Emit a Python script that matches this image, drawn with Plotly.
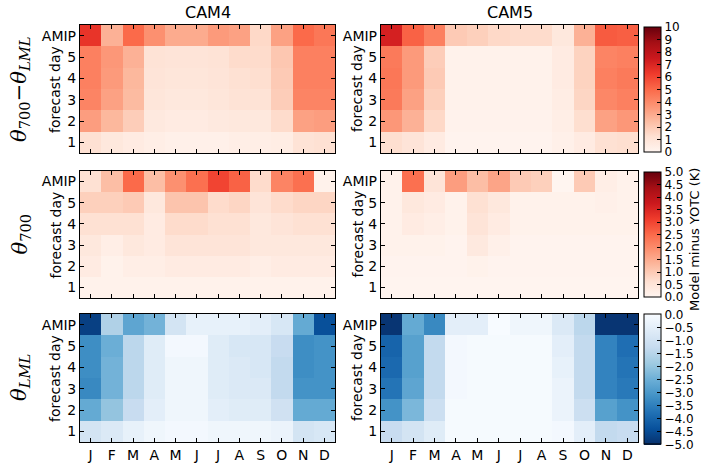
import plotly.graph_objects as go
from plotly.subplots import make_subplots

months = ["J", "F", "M", "A", "M", "J", "J", "A", "S", "O", "N", "D"]
rows = ["1", "2", "3", "4", "5", "AMIP"]
models = ["CAM4", "CAM5"]

# rows: forecast day 1..5, then AMIP (top)
cam4_diff = [
    [1.2, 0.8, 0.6, 0.4, 0.3, 0.3, 0.3, 0.4, 0.4, 0.5, 1.1, 1.2],
    [3.4, 2.6, 1.9, 0.7, 0.6, 0.6, 0.7, 0.8, 0.8, 1.4, 3.3, 3.4],
    [4.2, 3.3, 2.5, 0.9, 0.8, 0.8, 0.9, 1.1, 1.1, 1.9, 4.2, 4.2],
    [4.3, 3.5, 2.6, 1.0, 0.9, 0.9, 1.0, 1.2, 1.3, 2.0, 4.3, 4.3],
    [4.3, 3.6, 2.8, 1.1, 1.0, 1.0, 1.1, 1.4, 1.4, 2.1, 4.3, 4.3],
    [6.5, 2.8, 5.0, 3.8, 3.0, 3.0, 3.5, 3.3, 1.5, 3.3, 5.0, 4.6],
]
cam5_diff = [
    [1.3, 1.0, 0.6, 0.1, 0.1, 0.1, 0.1, 0.1, 0.3, 0.6, 1.2, 1.3],
    [3.6, 2.8, 1.5, 0.15, 0.15, 0.15, 0.15, 0.15, 0.4, 1.3, 3.3, 3.6],
    [4.5, 3.3, 1.8, 0.2, 0.2, 0.2, 0.2, 0.2, 0.5, 1.6, 4.1, 4.3],
    [4.6, 3.5, 2.0, 0.2, 0.2, 0.2, 0.2, 0.2, 0.6, 1.7, 4.3, 4.5],
    [4.5, 3.5, 1.9, 0.2, 0.2, 0.2, 0.2, 0.2, 0.6, 1.7, 4.2, 4.3],
    [7.2, 5.2, 4.3, 2.0, 1.8, 1.5, 1.4, 1.4, 0.8, 2.8, 5.4, 5.3],
]
cam4_t700 = [
    [0.10, 0.10, 0.10, 0.10, 0.10, 0.10, 0.10, 0.10, 0.10, 0.10, 0.10, 0.10],
    [0.30, 0.10, 0.20, 0.20, 0.30, 0.30, 0.30, 0.30, 0.20, 0.30, 0.30, 0.30],
    [0.40, 0.20, 0.40, 0.30, 0.50, 0.50, 0.50, 0.50, 0.40, 0.40, 0.40, 0.40],
    [0.60, 0.60, 0.60, 0.30, 0.70, 0.70, 0.60, 0.60, 0.40, 0.50, 0.60, 0.60],
    [0.90, 0.90, 1.00, 0.40, 1.10, 1.10, 0.70, 0.80, 0.50, 0.70, 0.80, 0.80],
    [0.60, 1.20, 2.50, 1.20, 1.90, 2.40, 3.00, 2.60, 0.70, 2.10, 2.40, 0.10],
]
cam5_t700 = [
    [0.02, 0.02, 0.02, 0.02, 0.02, 0.02, 0.02, 0.02, 0.02, 0.02, 0.02, 0.02],
    [0.05, 0.05, 0.05, 0.05, 0.10, 0.05, 0.05, 0.05, 0.05, 0.05, 0.05, 0.05],
    [0.10, 0.10, 0.10, 0.05, 0.35, 0.15, 0.05, 0.05, 0.05, 0.05, 0.05, 0.05],
    [0.10, 0.30, 0.20, 0.10, 0.50, 0.30, 0.10, 0.10, 0.10, 0.10, 0.10, 0.10],
    [0.10, 0.40, 0.30, 0.10, 0.60, 0.40, 0.10, 0.10, 0.10, 0.10, 0.15, 0.10],
    [0.10, 2.40, 0.50, 1.70, 1.20, 1.60, 1.00, 0.90, 0.00, 1.00, 0.20, 0.10],
]
cam4_tlml = [
    [-0.9, -0.7, -0.4, -0.2, -0.1, -0.1, -0.2, -0.2, -0.2, -0.3, -0.9, -0.8],
    [-2.6, -2.0, -1.2, -0.5, -0.2, -0.2, -0.5, -0.6, -0.6, -1.0, -2.6, -2.6],
    [-3.3, -2.4, -1.4, -0.6, -0.2, -0.2, -0.6, -0.7, -0.7, -1.3, -3.1, -3.1],
    [-3.2, -2.4, -1.4, -0.6, -0.2, -0.2, -0.6, -0.7, -0.8, -1.3, -3.2, -3.1],
    [-3.2, -2.5, -1.4, -0.6, -0.1, -0.1, -0.6, -0.8, -0.8, -1.2, -3.2, -3.1],
    [-4.7, -1.6, -2.7, -2.4, -0.9, -0.4, -0.4, -0.4, -0.5, -0.8, -2.6, -4.4],
]
cam5_tlml = [
    [-1.2, -0.9, -0.6, -0.05, -0.05, -0.05, -0.05, -0.05, -0.1, -0.5, -1.3, -1.2],
    [-3.1, -2.3, -1.1, -0.05, -0.05, -0.05, -0.05, -0.05, -0.3, -1.1, -2.8, -3.1],
    [-3.7, -2.7, -1.3, -0.1, -0.05, -0.05, -0.05, -0.05, -0.3, -1.3, -3.4, -3.6],
    [-3.9, -2.8, -1.3, -0.1, -0.05, -0.05, -0.05, -0.05, -0.4, -1.3, -3.4, -3.7],
    [-4.0, -2.8, -1.3, -0.1, -0.05, -0.05, -0.05, -0.05, -0.5, -1.3, -3.4, -3.8],
    [-4.9, -2.6, -3.3, -0.5, -0.5, 0.0, -0.2, -0.2, -0.7, -1.4, -4.9, -4.9],
]

row_labels = [
    "<i>θ</i><sub>700</sub>−<i>θ</i><sub><i>LML</i></sub>",
    "<i>θ</i><sub>700</sub>",
    "<i>θ</i><sub><i>LML</i></sub>",
]
ytitle = "forecast day"
cbar_label = "Model minus YOTC (K)"

reds = ["rgb(255,245,240)", "rgb(254,224,210)", "rgb(252,187,161)",
        "rgb(252,146,114)", "rgb(251,106,74)", "rgb(239,59,44)",
        "rgb(203,24,29)", "rgb(165,15,21)", "rgb(103,0,13)"]
blues = ["rgb(247,251,255)", "rgb(222,235,247)", "rgb(198,219,239)",
         "rgb(158,202,225)", "rgb(107,174,214)", "rgb(66,146,198)",
         "rgb(33,113,181)", "rgb(8,81,156)", "rgb(8,48,107)"]


def scale(cols):
    n = len(cols) - 1
    return [[i / n, c] for i, c in enumerate(cols)]


W, H = 701, 463
FONT = "DejaVu Sans"

fig = make_subplots(rows=3, cols=2)

data = [[cam4_diff, cam5_diff], [cam4_t700, cam5_t700], [cam4_tlml, cam5_tlml]]
xdom = [(80, 335), (381, 638)]
ydom = [(25, 153), (171, 298), (314, 442)]
ytitle_x = [55, 357]

for r in range(3):
    for c in range(2):
        fig.add_trace(
            go.Heatmap(
                z=data[r][c],
                x=list(range(12)),
                y=list(range(6)),
                coloraxis=["coloraxis", "coloraxis2", "coloraxis3"][r],
                showscale=(c == 1),
            ),
            row=r + 1, col=c + 1,
        )
        idx = r * 2 + c + 1
        xa = "xaxis" if idx == 1 else f"xaxis{idx}"
        ya = "yaxis" if idx == 1 else f"yaxis{idx}"
        x0, x1 = xdom[c]
        y0, y1 = ydom[r]
        common = dict(showline=True, linecolor="black", linewidth=1.3, mirror="ticks",
                      ticks="inside", ticklen=4, tickcolor="black", tickwidth=1,
                      showgrid=False, zeroline=False,
                      tickfont=dict(family=FONT, size=14, color="black"))
        fig.layout[xa].update(domain=[x0 / W, x1 / W], range=[-0.5, 11.5],
                              tickvals=list(range(12)), ticktext=months,
                              showticklabels=(r == 2), **common)
        fig.layout[ya].update(domain=[1 - y1 / H, 1 - y0 / H], range=[-0.5, 5.5],
                              tickvals=list(range(6)), ticktext=rows, **common)

cb_common = dict(thickness=17, thicknessmode="pixels", lenmode="pixels",
                 x=644 / W, xanchor="left", yanchor="middle",
                 outlinecolor="black", outlinewidth=1,
                 ticks="inside", ticklen=4, tickcolor="black",
                 tickfont=dict(family=FONT, size=12, color="black"), xpad=0, ypad=0)

fig.update_layout(
    coloraxis=dict(colorscale=scale(reds), cmin=0, cmax=10,
                   colorbar=dict(len=125, y=1 - 89.5 / H, tickvals=list(range(11)),
                                 **cb_common)),
    coloraxis2=dict(colorscale=scale(reds), cmin=0, cmax=5,
                    colorbar=dict(len=125, y=1 - 234.5 / H,
                                  tickvals=[i * 0.5 for i in range(11)],
                                  tickformat=".1f", **cb_common)),
    coloraxis3=dict(colorscale=scale(blues[::-1]), cmin=-5, cmax=0,
                    colorbar=dict(len=130, y=1 - 379.5 / H,
                                  tickvals=[-5 + i * 0.5 for i in range(11)],
                                  tickformat=".1f", **cb_common)),
)

annotations = []
for c in range(2):
    annotations.append(dict(text=models[c], x=(xdom[c][0] + xdom[c][1]) / 2 / W,
                            y=1 - 12 / H, xref="paper", yref="paper",
                            xanchor="center", yanchor="middle",
                            showarrow=False, font=dict(family=FONT, size=16, color="black")))
for r in range(3):
    ymid = 1 - (ydom[r][0] + ydom[r][1]) / 2 / H
    annotations.append(dict(text=row_labels[r], x=20 / W, y=ymid,
                            xref="paper", yref="paper", textangle=-90, showarrow=False,
                            xanchor="center", yanchor="middle",
                            font=dict(family="DejaVu Serif", size=21, color="black")))
    for c in range(2):
        annotations.append(dict(text=ytitle, x=ytitle_x[c] / W, y=ymid,
                                xref="paper", yref="paper", textangle=-90,
                                showarrow=False, xanchor="center", yanchor="middle",
                                font=dict(family=FONT, size=14, color="black")))
annotations.append(dict(text=cbar_label, x=694 / W, y=1 - 240 / H, xref="paper",
                        yref="paper", textangle=-90, showarrow=False,
                        xanchor="center", yanchor="middle",
                        font=dict(family=FONT, size=13, color="black")))

fig.update_layout(width=W, height=H, margin=dict(l=0, r=0, t=0, b=0),
                  paper_bgcolor="white", plot_bgcolor="white",
                  annotations=annotations)

fig.write_html("out.html")
